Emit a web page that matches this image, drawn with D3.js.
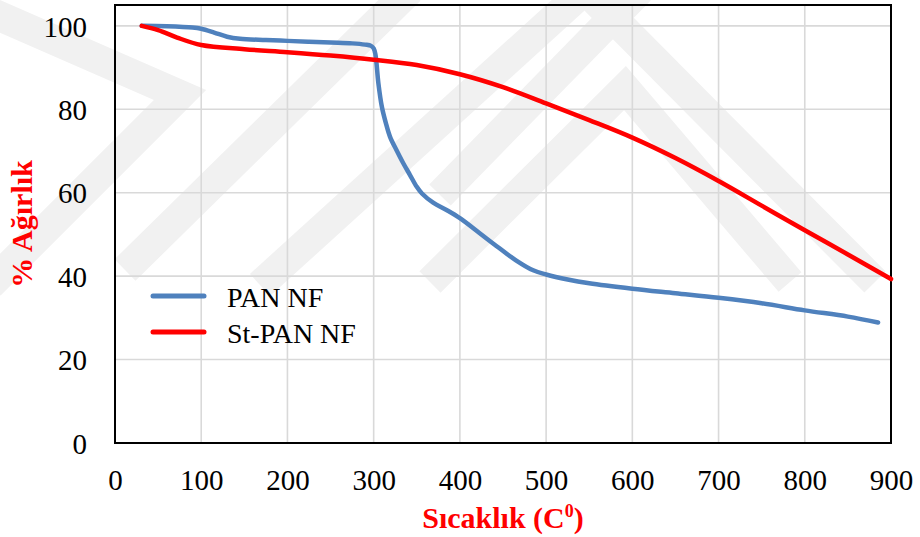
<!DOCTYPE html>
<html lang="en">
<head>
  <meta charset="UTF-8">
  <title>TGA</title>
  <script src="https://d3js.org/d3.v7.min.js"></script>
  <style>
    body { margin: 0; background: #fff; }
    svg text { font-family: "Liberation Serif", "Times New Roman", serif; }
  </style>
</head>
<body>
<div id="chart"></div>
<script>
// series
const panTemp = [31, 60, 90, 100, 115, 130, 145, 175, 200, 225, 250, 275, 290, 297, 300, 302, 305.5, 309.5, 314, 319, 327, 334.5, 342, 350, 356, 369, 385, 400, 423, 440, 465, 485, 500, 525, 550, 600, 650, 700, 750, 800, 850, 885];
const panVal  = [100, 99.9, 99.6, 99.3, 98.4, 97.4, 96.9, 96.6, 96.4, 96.2, 96.0, 95.8, 95.5, 95.2, 94.6, 93.2, 86.2, 80.6, 76.8, 73.4, 70.0, 67.0, 64.3, 61.4, 59.8, 57.6, 55.8, 53.9, 50.3, 47.6, 43.8, 41.4, 40.4, 39.2, 38.3, 37.0, 35.9, 34.8, 33.5, 31.8, 30.3, 28.9];

const stTemp = [31, 50, 72, 100, 150, 200, 250, 300, 350, 400, 450, 500, 550, 600, 650, 700, 750, 800, 850, 900];
const stVal  = [100, 99.0, 97.2, 95.4, 94.4, 93.7, 92.9, 91.9, 90.6, 88.4, 85.3, 81.4, 77.4, 73.2, 68.3, 62.8, 56.9, 51.0, 45.2, 39.3];

const seriesNames = ["PAN NF", "St-PAN NF"];
const seriesColors = ["#4F81BD", "#FF0000"];
const xTicks = [0, 100, 200, 300, 400, 500, 600, 700, 800, 900];
const yTicks = [0, 20, 40, 60, 80, 100];

const W = 920, H = 537;
const margin = { top: 5, right: 29, bottom: 94, left: 115 };
const serif = "Liberation Serif";

const svg = d3.select("#chart").append("svg")
  .attr("width", W).attr("height", H);

// faint watermark in the background
const wm = [
  [[-10, 12], [180, 95], [-10, 285]],
  [[125, 270], [410, -10]],
  [[260, 285], [585, -10]],
  [[430, 282], [625, 88], [790, 282]],
  [[440, 195], [640, -10]],
  [[595, 0], [875, 282]]
];
svg.append("g").selectAll("polyline").data(wm).enter().append("polyline")
  .attr("points", d => d.map(p => p.join(",")).join(" "))
  .attr("fill", "none")
  .attr("stroke", "#f1f1f1")
  .attr("stroke-width", 30)
  .attr("stroke-linejoin", "miter");

const x = d3.scaleLinear().domain([0, 900]).range([margin.left, W - margin.right]);
const y = d3.scaleLinear().domain([0, 105]).range([H - margin.bottom, margin.top]);

// grid
svg.append("g").selectAll("line").data(xTicks.slice(1, -1)).enter().append("line")
  .attr("x1", d => x(d)).attr("x2", d => x(d))
  .attr("y1", y(0)).attr("y2", y(105))
  .attr("stroke", "#d9d9d9").attr("stroke-width", 1.6);
svg.append("g").selectAll("line").data(yTicks.slice(1)).enter().append("line")
  .attr("x1", x(0)).attr("x2", x(900))
  .attr("y1", d => y(d)).attr("y2", d => y(d))
  .attr("stroke", "#d9d9d9").attr("stroke-width", 1.6);

// frame
svg.append("rect")
  .attr("x", x(0)).attr("y", y(105))
  .attr("width", x(900) - x(0)).attr("height", y(0) - y(105))
  .attr("fill", "none").attr("stroke", "#000").attr("stroke-width", 2);

// tick labels
const xAxis = svg.append("g")
  .attr("transform", `translate(0,${y(0)})`)
  .call(d3.axisBottom(x).tickValues(xTicks).tickSize(0).tickPadding(0));
xAxis.select(".domain").remove();
xAxis.selectAll("text")
  .attr("y", 47).attr("dy", null)
  .style("font-family", serif).style("font-size", "29px").attr("fill", "#000");

const yAxis = svg.append("g")
  .attr("transform", `translate(${x(0)},0)`)
  .call(d3.axisLeft(y).tickValues(yTicks).tickSize(0).tickPadding(0));
yAxis.select(".domain").remove();
yAxis.selectAll("text")
  .attr("x", -28).attr("dy", "0.35em")
  .style("font-family", serif).style("font-size", "29px").attr("fill", "#000");

// curves
const line = d3.line().x(d => x(d[0])).y(d => y(d[1])).curve(d3.curveCatmullRom.alpha(0.5));
const panData = panTemp.map((t, i) => [t, panVal[i]]);
const stData = stTemp.map((t, i) => [t, stVal[i]]);

[panData, stData].forEach((data, i) => {
  svg.append("path")
    .datum(data)
    .attr("d", line)
    .attr("fill", "none")
    .attr("stroke", seriesColors[i])
    .attr("stroke-width", 4.5)
    .attr("stroke-linecap", "round")
    .attr("stroke-linejoin", "round");
});

// legend
const legend = svg.append("g");
seriesNames.forEach((name, i) => {
  const ly = 296 + i * 36;
  legend.append("line")
    .attr("x1", 153).attr("x2", 204)
    .attr("y1", ly).attr("y2", ly)
    .attr("stroke", seriesColors[i]).attr("stroke-width", 5)
    .attr("stroke-linecap", "round");
  legend.append("text")
    .attr("x", 227).attr("y", ly + 10.5)
    .style("font-family", serif).style("font-size", "28px").attr("fill", "#000")
    .text(name);
});

// axis titles
const xt = svg.append("text")
  .attr("x", (x(0) + x(900)) / 2).attr("y", 528)
  .attr("text-anchor", "middle")
  .style("font-family", serif).style("font-size", "30px").style("font-weight", "bold")
  .attr("fill", "#FF0000");
xt.append("tspan").text("Sıcaklık (C");
xt.append("tspan").attr("dy", -11).style("font-size", "18px").text("0");
xt.append("tspan").attr("dy", 11).text(")");

svg.append("text")
  .attr("transform", `translate(32,${(y(0) + y(105)) / 2}) rotate(-90)`)
  .attr("text-anchor", "middle")
  .style("font-family", serif).style("font-size", "30px").style("font-weight", "bold")
  .attr("fill", "#FF0000")
  .text("% Ağırlık");
</script>
</body>
</html>
